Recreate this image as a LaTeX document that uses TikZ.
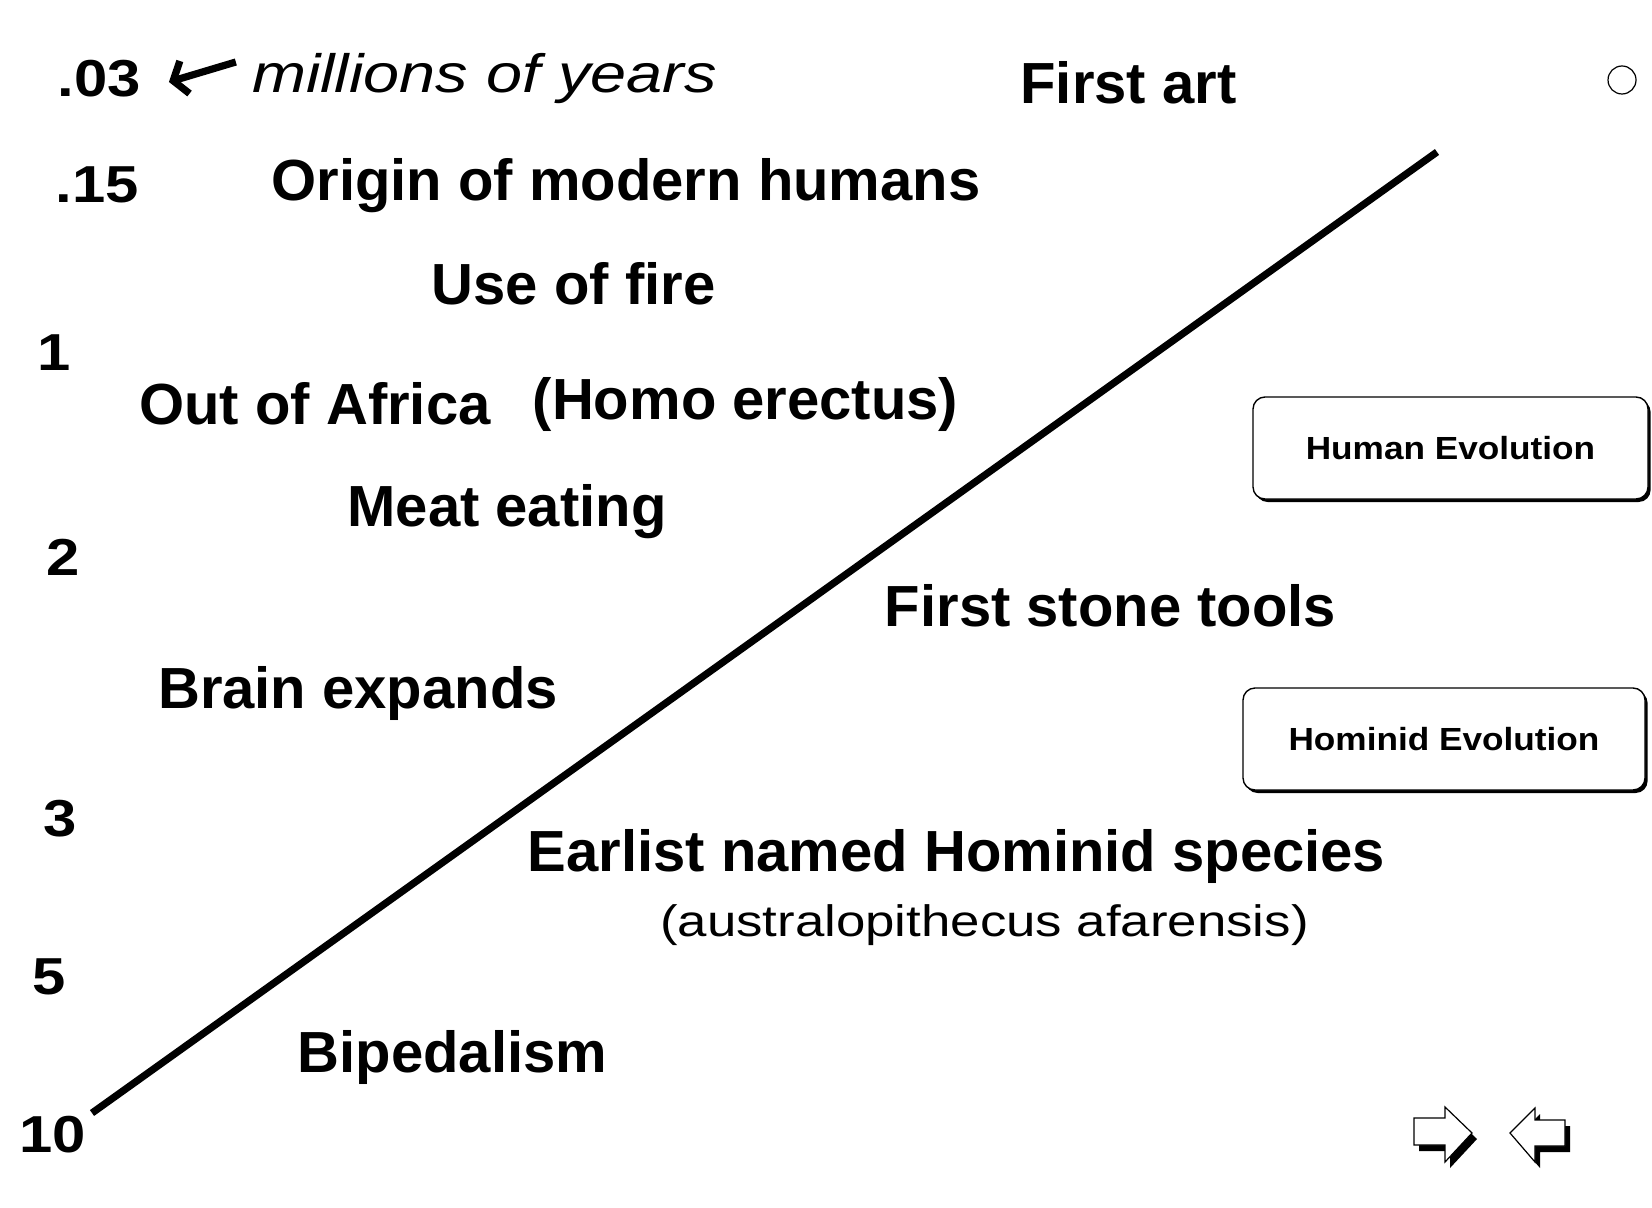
\documentclass[tikz,border=0pt]{standalone}
\usepackage{fontspec}
\setmainfont{Liberation Sans}
\newfontfamily\numfont[FakeStretch=1.15]{Liberation Sans}
\newfontfamily\widefont[FakeStretch=1.2]{Liberation Sans}
\newfontfamily\btnfont[FakeStretch=1.1]{Liberation Sans}
\usepackage{tikz}
\usetikzlibrary{positioning, arrows.meta, shadows}

\begin{document}
\begin{tikzpicture}[x=0.5pt, y=-0.5pt,
    event/.style={anchor=base, inner sep=0pt, font=\bfseries\fontsize{29}{32}\selectfont},
    yearnum/.style={anchor=base, inner sep=0pt, font=\numfont\bfseries\fontsize{26}{28}\selectfont},
    button/.style={draw, line width=0.7pt, fill=white, rounded corners=6pt,
      minimum height=51pt, inner sep=0pt, font=\btnfont\bfseries\fontsize{16}{18}\selectfont,
      drop shadow={opacity=1, fill=black, shadow xshift=1.3pt, shadow yshift=-1.5pt}},
    navarrow/.style={draw, line width=0.6pt, fill=white,
      drop shadow={opacity=1, fill=black, shadow xshift=2.5pt, shadow yshift=-3pt}},
    backarrow/.style={line width=3.6pt, -{Straight Barb[length=6pt, width=17pt, line width=3.6pt]}}]
  \useasboundingbox (0,0) rectangle (1652,1208);

  % years down the left side
  \node[yearnum] (yr03) at (99,97) {.03};
  \node[yearnum] (yr15) at (97.5,203) {.15};
  \node[yearnum] (yr1) at (54.5,371) {1};
  \node[yearnum] (yr2) at (63,575) {2};
  \node[yearnum] (yr3) at (60,836) {3};
  \node[yearnum] (yr5) at (49.5,994) {5};
  \node[yearnum] (yr10) at (52.5,1152) {10};

  \node[anchor=base, inner sep=0pt, font=\widefont\itshape\fontsize{27}{30}\selectfont] (myrs) at (484.5,93) {millions of years};
  \draw[backarrow] ([shift={(-16,-31)}]myrs.base west) -- ([shift={(28,-15)}]yr03.base east);

  % events
  \node[event] (art) at (1128.5,104) {First art};
  \node[event] (origin) at (626,201) {Origin of modern humans};
  \node[event] (fire) at (573.5,305) {Use of fire};
  \node[event] (africa) at (315,424) {Out of Africa};
  \node[event] (erectus) at (745.5,419) {(Homo erectus)};
  \node[event] (meat) at (507,526) {Meat eating};
  \node[event] (tools) at (1110.5,626) {First stone tools};
  \node[event] (brain) at (358,708) {Brain expands};
  \node[event] (earliest) at (956.5,871) {Earlist named Hominid species};
  \node[anchor=base, inner sep=0pt, font=\widefont\fontsize{22}{24}\selectfont] (afarensis) at (984.5,936) {(australopithecus afarensis)};
  \node[event] (biped) at (452.5,1072) {Bipedalism};

  \draw[line width=3.6pt] (92,1113) -- (1437,152);

  \node[circle, draw, line width=0.6pt, minimum size=14pt, inner sep=0pt] (dot) at (1622,80) {};

  \node[button, minimum width=197.5pt] (human) at (1450.5,448) {Human Evolution};
  \node[button, minimum width=201pt] (hominid) at (1444,739) {Hominid Evolution};

  \draw[navarrow] (1414,1118) -- (1445,1118) -- (1445,1107) -- (1472,1133) -- (1445,1162) -- (1445,1145) -- (1414,1145) -- cycle;
  \draw[navarrow] (1565,1120) -- (1535,1120) -- (1535,1108) -- (1510,1133) -- (1535,1162) -- (1535,1146) -- (1565,1146) -- cycle;
\end{tikzpicture}
\end{document}
